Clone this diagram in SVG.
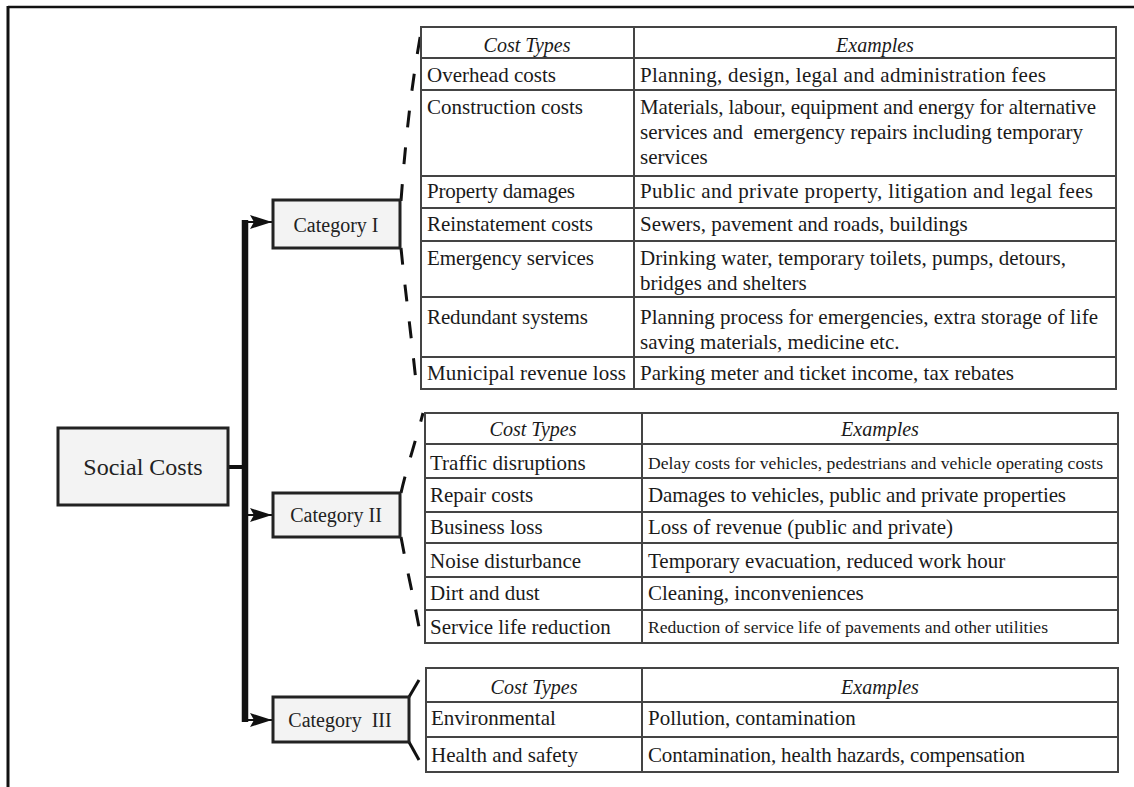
<svg xmlns="http://www.w3.org/2000/svg" width="1134" height="787" viewBox="0 0 1134 787">
<style>
.t{font-family:"Liberation Serif","Times New Roman",serif;font-size:21px;fill:#1a1a1a}
.s{font-family:"Liberation Serif","Times New Roman",serif;font-size:17.6px;fill:#1a1a1a}
.h{font-family:"Liberation Serif","Times New Roman",serif;font-size:20px;font-style:italic;fill:#1a1a1a;text-anchor:middle}
.box{fill:#f3f3f3;stroke:#222;stroke-width:3}
.lab{font-family:"Liberation Serif","Times New Roman",serif;font-size:20px;fill:#222;text-anchor:middle;white-space:pre}
.tbl{fill:#fff;stroke:#444;stroke-width:2}
.ln{stroke:#444;stroke-width:2;fill:none}
.br{stroke:#111;stroke-width:3;fill:none;stroke-dasharray:17 20}
.brs{stroke:#111;stroke-width:3;fill:none}
</style>
<defs>
<marker id="ah" markerUnits="userSpaceOnUse" markerWidth="22" markerHeight="16" refX="22" refY="8" orient="auto"><path d="M0,1 L22,8 L0,15 L4,8 z" fill="#111"/></marker>
</defs>
<rect width="1134" height="787" fill="#fff"/>
<g id="frame">
<line x1="8" y1="7" x2="1134" y2="7" stroke="#111" stroke-width="2.5"/>
<line x1="8" y1="6" x2="8" y2="787" stroke="#111" stroke-width="3"/>
</g>
<g id="connectors">
<line x1="228" y1="467" x2="245" y2="467" stroke="#111" stroke-width="4"/>
<line x1="245" y1="220" x2="245" y2="722" stroke="#111" stroke-width="6.5"/>
<line x1="245" y1="222" x2="272" y2="222" stroke="#111" stroke-width="2" marker-end="url(#ah)"/>
<line x1="245" y1="515" x2="272" y2="515" stroke="#111" stroke-width="2" marker-end="url(#ah)"/>
<line x1="245" y1="720" x2="272" y2="720" stroke="#111" stroke-width="2" marker-end="url(#ah)"/>
<path class="br" d="M401,201 C404,160 410,90 422,27"/>
<path class="br" d="M401,248 C405,290 412,340 417,392"/>
<path class="br" d="M401,493 C406,470 416,440 423,413"/>
<path class="br" d="M401,537 C407,570 414,600 419,627"/>
<path class="brs" d="M409,697 L419,680"/>
<path class="brs" d="M409,742 L419,760"/>
</g>
<g id="social-costs">
<rect class="box" x="58" y="428" width="170" height="77"/>
<text class="lab" x="143" y="475" style="font-size:24px">Social Costs</text>
</g>
<g id="category-1">
<rect class="box" x="273" y="200" width="127" height="48"/>
<text class="lab" x="336" y="232">Category I</text>
</g>
<g id="category-2">
<rect class="box" x="273" y="493" width="127" height="44"/>
<text class="lab" x="336" y="522">Category II</text>
</g>
<g id="category-3">
<rect class="box" x="273" y="697" width="136" height="45"/>
<text class="lab" x="340" y="727">Category  III</text>
</g>
<g id="table-1">
<rect class="tbl" x="421" y="27" width="695" height="362"/>
<path class="ln" d="M634,27 V389 M421,58 H1116 M421,90 H1116 M421,176 H1116 M421,208 H1116 M421,241 H1116 M421,297 H1116 M421,357 H1116"/>
<text class="h" x="527" y="52">Cost Types</text>
<text class="h" x="875" y="52">Examples</text>
<text class="t" x="427" y="82" textLength="129" lengthAdjust="spacing">Overhead costs</text>
<text class="t" x="640" y="82" textLength="406" lengthAdjust="spacing">Planning, design, legal and administration fees</text>
<text class="t" x="427" y="114" textLength="156" lengthAdjust="spacing">Construction costs</text>
<text class="t" x="640" y="114" textLength="456" lengthAdjust="spacing">Materials, labour, equipment and energy for alternative</text>
<text class="t" x="640" y="139" style="white-space:pre" textLength="443" lengthAdjust="spacing">services and  emergency repairs including temporary</text>
<text class="t" x="640" y="164">services</text>
<text class="t" x="427" y="198" textLength="148" lengthAdjust="spacing">Property damages</text>
<text class="t" x="640" y="198" textLength="453" lengthAdjust="spacing">Public and private property, litigation and legal fees</text>
<text class="t" x="427" y="231" textLength="166" lengthAdjust="spacing">Reinstatement costs</text>
<text class="t" x="640" y="231">Sewers, pavement and roads, buildings</text>
<text class="t" x="427" y="265" textLength="167" lengthAdjust="spacing">Emergency services</text>
<text class="t" x="640" y="265" textLength="426" lengthAdjust="spacing">Drinking water, temporary toilets, pumps, detours,</text>
<text class="t" x="640" y="290">bridges and shelters</text>
<text class="t" x="427" y="324" textLength="161" lengthAdjust="spacing">Redundant systems</text>
<text class="t" x="640" y="324" textLength="458" lengthAdjust="spacing">Planning process for emergencies, extra storage of life</text>
<text class="t" x="640" y="349">saving materials, medicine etc.</text>
<text class="t" x="427" y="380" textLength="199" lengthAdjust="spacing">Municipal revenue loss</text>
<text class="t" x="640" y="380" textLength="374" lengthAdjust="spacing">Parking meter and ticket income, tax rebates</text>
</g>
<g id="table-2">
<rect class="tbl" x="425" y="413" width="693" height="230"/>
<path class="ln" d="M642,413 V643 M425,444 H1118 M425,478 H1118 M425,512 H1118 M425,543 H1118 M425,577 H1118 M425,610 H1118"/>
<text class="h" x="533" y="436">Cost Types</text>
<text class="h" x="880" y="436">Examples</text>
<text class="t" x="430" y="470">Traffic disruptions</text>
<text class="s" x="648" y="469" textLength="455" lengthAdjust="spacing">Delay costs for vehicles, pedestrians and vehicle operating costs</text>
<text class="t" x="430" y="502">Repair costs</text>
<text class="t" x="648" y="502" textLength="418" lengthAdjust="spacing">Damages to vehicles, public and private properties</text>
<text class="t" x="430" y="534">Business loss</text>
<text class="t" x="648" y="534">Loss of revenue (public and private)</text>
<text class="t" x="430" y="568">Noise disturbance</text>
<text class="t" x="648" y="568">Temporary evacuation, reduced work hour</text>
<text class="t" x="430" y="600">Dirt and dust</text>
<text class="t" x="648" y="600">Cleaning, inconveniences</text>
<text class="t" x="430" y="634">Service life reduction</text>
<text class="s" x="648" y="633" textLength="400" lengthAdjust="spacing">Reduction of service life of pavements and other utilities</text>
</g>
<g id="table-3">
<rect class="tbl" x="426" y="668" width="692" height="104"/>
<path class="ln" d="M642,668 V772 M426,702 H1118 M426,737 H1118"/>
<text class="h" x="534" y="694">Cost Types</text>
<text class="h" x="880" y="694">Examples</text>
<text class="t" x="431" y="725">Environmental</text>
<text class="t" x="648" y="725">Pollution, contamination</text>
<text class="t" x="431" y="762">Health and safety</text>
<text class="t" x="648" y="762" textLength="377" lengthAdjust="spacing">Contamination, health hazards, compensation</text>
</g>
</svg>
